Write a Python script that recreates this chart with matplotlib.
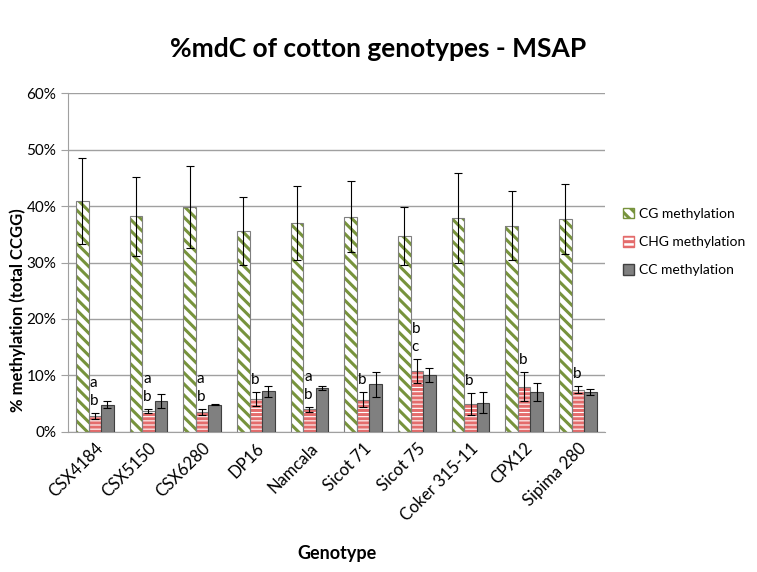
import numpy as np
import matplotlib.pyplot as plt
from matplotlib.patches import Patch

plt.rcParams['font.family'] = ['Lato', 'DejaVu Sans']
plt.rcParams['hatch.linewidth'] = 2.2

genotypes = ["CSX4184", "CSX5150", "CSX6280", "DP16", "Namcala",
             "Sicot 71", "Sicot 75", "Coker 315-11", "CPX12", "Sipima 280"]

cg = [40.9, 38.2, 39.8, 35.6, 37.0, 38.1, 34.7, 37.9, 36.5, 37.7]
cg_err = [7.6, 7.0, 7.3, 6.0, 6.5, 6.3, 5.1, 7.9, 6.1, 6.2]
chg = [2.8, 3.7, 3.5, 5.8, 4.0, 5.7, 10.8, 4.9, 8.0, 7.5]
chg_err = [0.5, 0.4, 0.5, 1.3, 0.4, 1.3, 2.1, 2.0, 2.6, 0.6]
cc = [4.8, 5.5, 4.8, 7.2, 7.8, 8.4, 10.1, 5.2, 7.1, 7.1]
cc_err = [0.6, 1.2, 0.1, 1.0, 0.3, 2.2, 1.2, 1.8, 1.6, 0.5]
letters = ["a\nb", "a\nb", "a\nb", "b", "a\nb", "b", "b\nc", "b", "b", "b"]

green = "#77933C"
red = "#E46C6C"
grey = "#808080"

fig = plt.figure(figsize=(7.57, 5.72), dpi=100)
ax = fig.add_axes([0.0898, 0.245, 0.709, 0.592])

x = np.arange(len(genotypes))
w = 0.235

# hatched fills first, outlines drawn on top
ax.bar(x - w, cg, w, color="white", edgecolor=green, hatch="\\\\\\", linewidth=0, zorder=2)
ax.bar(x, chg, w, color="white", edgecolor=red, hatch="----", linewidth=0, zorder=2)
ax.bar(x - w, cg, w, fill=False, edgecolor="#7F7F7F", linewidth=0.8, zorder=3)
ax.bar(x, chg, w, fill=False, edgecolor="#7F7F7F", linewidth=0.8, zorder=3)
ax.bar(x + w, cc, w, color=grey, edgecolor="#404040", linewidth=0.8, zorder=3)

ekw = dict(fmt="none", ecolor="black", elinewidth=0.8, capsize=3, capthick=0.8, zorder=4)
ax.errorbar(x - w, cg, yerr=cg_err, **ekw)
ax.errorbar(x, chg, yerr=chg_err, **ekw)
ax.errorbar(x + w, cc, yerr=cc_err, **ekw)

for i, lab in enumerate(letters):
    ax.text(x[i] - w / 2 + 0.02, chg[i] + chg_err[i] + 0.9, lab, ha="left", va="bottom",
            fontsize=11, linespacing=1.35, zorder=5)

ax.set_xlim(-0.5, len(genotypes) - 0.5)
ax.set_ylim(0, 60)
ax.set_yticks(np.arange(0, 61, 10))
ax.set_yticklabels([f"{v}%" for v in range(0, 61, 10)], fontsize=11)
ax.set_xticks(x)
ax.set_xticklabels(genotypes, rotation=45, ha="right", rotation_mode="anchor", fontsize=12)
ax.tick_params(axis="x", length=0, pad=6)
ax.tick_params(axis="y", length=5, color="#A0A0A0")

ax.yaxis.grid(True, color="#A0A0A0", linewidth=1)
ax.set_axisbelow(True)
for s in ["top", "right"]:
    ax.spines[s].set_visible(False)
for s in ["left", "bottom"]:
    ax.spines[s].set_color("#A0A0A0")

fig.text(0.024, 0.457, "% methylation (total CCGG)", rotation=90, ha="center", va="center",
         fontsize=12, fontweight="bold")
fig.text(0.445, 0.033, "Genotype", ha="center", va="center", fontsize=13, fontweight="bold")
fig.text(0.5, 0.915, "%mdC of cotton genotypes - MSAP", ha="center", va="center",
         fontsize=19, fontweight="bold")

handles = [Patch(facecolor="white", edgecolor=green, hatch="\\\\\\", label="CG methylation"),
           Patch(facecolor="white", edgecolor=red, hatch="---", label="CHG methylation"),
           Patch(facecolor=grey, edgecolor="#404040", label="CC methylation")]
fig.legend(handles=handles, loc="center left", bbox_to_anchor=(0.81, 0.577), frameon=False,
           fontsize=10, handlelength=0.8, handleheight=0.8, handletextpad=0.35, labelspacing=1.15,
           borderpad=0.2)

fig.savefig("out.png", dpi=100)
